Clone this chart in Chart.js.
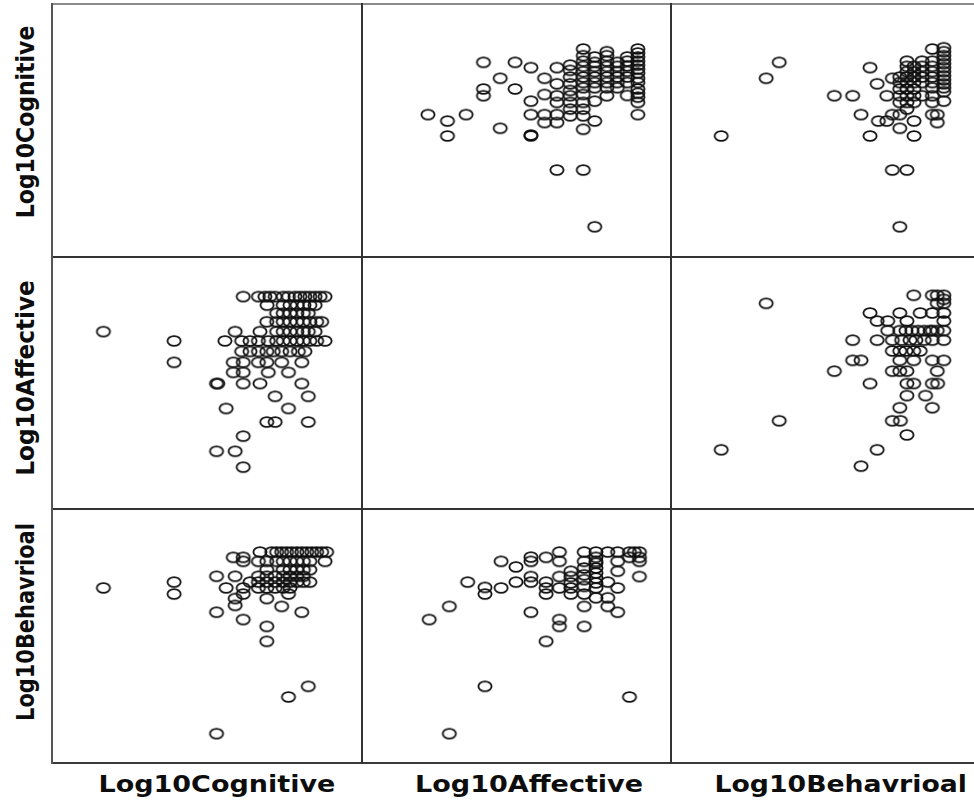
<!DOCTYPE html>
<html>
<head>
<meta charset="utf-8">
<script src="https://cdn.jsdelivr.net/npm/chart.js@4.4.1/dist/chart.umd.min.js"></script>
<style>
html,body{margin:0;padding:0;background:#fff;}
#wrap{position:relative;width:974px;height:801px;overflow:hidden;background:#fff;}
#wrap canvas{position:absolute;}
.ln{position:absolute;background:#333;z-index:5;}
.lbl{position:absolute;font-family:'DejaVu Sans',sans-serif;font-weight:bold;white-space:nowrap;line-height:1;color:#0d0d0d;transform-origin:50% 50%;}
</style>
</head>
<body>
<div id="wrap"></div>
<script>
// ---- variable names (axis labels) ----
const varNames = ['Log10Cognitive', 'Log10Affective', 'Log10Behavrioal'];

// ---- Cognitive vs Affective pairs ----
const caCog = [
  1.120,1.169,1.190,1.206,1.223,1.249,1.266,1.287,1.303,1.319,1.335,1.352,1.368,1.384,
  1.197,1.249,1.271,1.294,1.316,1.335,1.352,
  1.228,1.249,1.271,1.293,1.314,1.330,
  1.196,1.228,1.249,1.271,1.293,1.314,1.335,1.357,1.373,
  0.669,1.094,1.174,1.228,1.249,1.271,1.293,1.314,1.330,1.352,
  0.897,1.061,1.115,1.142,1.169,1.201,1.228,1.249,1.271,1.293,1.314,1.335,1.357,1.384,
  1.115,1.142,1.169,1.196,1.217,1.244,1.271,1.298,1.319,
  0.897,1.088,1.120,1.169,1.196,1.244,1.309,
  1.088,1.120,1.201,1.266,
  1.034,1.038,1.120,1.174,1.309,
  1.223,1.330,
  1.065,1.266,
  1.196,1.223,1.330,
  1.120,
  1.034,1.094,
  1.120
];
const caAff = [
  1.393,1.393,1.393,1.393,1.393,1.393,1.393,1.393,1.393,1.393,1.393,1.393,1.393,1.393,
  1.359,1.359,1.359,1.359,1.359,1.359,1.359,
  1.327,1.327,1.327,1.327,1.327,1.327,
  1.293,1.293,1.293,1.293,1.293,1.293,1.293,1.293,1.293,
  1.254,1.254,1.254,1.254,1.254,1.254,1.254,1.254,1.254,1.254,
  1.217,1.217,1.217,1.217,1.217,1.217,1.217,1.217,1.217,1.217,1.217,1.217,1.217,1.217,
  1.175,1.175,1.175,1.175,1.175,1.175,1.175,1.175,1.175,
  1.132,1.132,1.132,1.132,1.132,1.132,1.132,
  1.092,1.092,1.092,1.092,
  1.048,1.048,1.048,1.048,1.048,
  0.997,0.997,
  0.949,0.949,
  0.895,0.895,0.895,
  0.839,
  0.779,0.779,
  0.716
];

// ---- Cognitive vs Behavioral pairs ----
const cbCog = [
  1.174,1.212,1.228,1.244,1.260,1.276,1.293,1.309,1.325,1.341,1.357,1.373,1.389,
  1.088,1.120,
  1.120,1.169,1.196,1.228,1.249,1.271,1.293,1.314,1.335,1.384,
  1.196,1.249,1.271,1.293,1.314,1.335,
  1.034,1.094,1.169,1.196,1.223,1.249,1.271,1.293,1.314,
  0.897,1.142,1.169,1.196,1.223,1.249,1.271,1.293,1.314,1.335,
  0.669,1.065,1.120,1.169,1.196,1.223,1.249,1.271,
  0.897,1.120,1.266,
  1.094,1.196,
  1.094,
  1.244,
  1.034,1.309,
  1.120,
  1.196,
  1.196,
  1.330,
  1.266,
  1.034
];
const cbBeh = [
  1.380,1.380,1.380,1.380,1.380,1.380,1.380,1.380,1.380,1.380,1.380,1.380,1.380,
  1.359,1.359,
  1.343,1.343,1.343,1.343,1.343,1.343,1.343,1.343,1.343,1.343,
  1.310,1.310,1.310,1.310,1.310,1.310,
  1.284,1.284,1.284,1.284,1.284,1.284,1.284,1.284,1.284,
  1.261,1.261,1.261,1.261,1.261,1.261,1.261,1.261,1.261,1.261,
  1.238,1.238,1.238,1.238,1.238,1.238,1.238,1.238,
  1.214,1.214,1.214,
  1.196,1.196,
  1.169,
  1.165,
  1.142,1.142,
  1.113,
  1.086,
  1.027,
  0.849,
  0.807,
  0.662
];

// ---- Affective vs Behavioral pairs ----
const abAff = [
  0.785,0.900,1.366,1.097,1.220,1.140,1.140,1.048,0.720,0.785,
  0.844,0.900,0.900,0.952,1.000,0.952,1.000,1.048,1.048,1.097,
  1.140,1.140,1.048,1.048,1.097,1.097,1.097,1.140,1.140,
  1.177,1.177,1.177,1.177,1.177,
  1.220,1.220,1.220,1.220,1.220,1.220,1.220,1.220,
  1.258,1.258,1.258,1.258,1.258,1.258,1.258,1.258,1.258,1.258,
  1.296,1.296,1.296,1.296,
  1.328,1.328,1.328,1.328,1.328,
  1.366,1.366,1.382,1.398,1.398,1.398,1.398
];
const abBeh = [
  0.662,0.849,0.807,1.027,1.086,1.113,1.086,1.142,1.113,1.165,
  1.261,1.240,1.214,1.238,1.261,1.343,1.321,1.360,1.343,1.359,
  1.380,1.343,1.283,1.261,1.261,1.238,1.214,1.283,1.238,
  1.304,1.283,1.258,1.238,1.214,
  1.380,1.343,1.317,1.290,1.271,1.244,1.214,1.165,
  1.380,1.359,1.336,1.317,1.297,1.277,1.258,1.238,1.199,1.343,
  1.380,1.261,1.199,1.165,
  1.380,1.343,1.304,1.238,1.142,
  1.380,1.359,1.380,1.380,1.359,1.343,1.283
];

// ---- value arrays indexed by variable pair ----
const pairData = {
  '0-1': [caCog, caAff],
  '0-2': [cbCog, cbBeh],
  '1-2': [abAff, abBeh]
};

// ---- layout (panel geometry and axis ranges) ----
const colLeft = [51, 361, 671];
const colW = 310;
const rowTop = [4, 257, 509];
const rowBot = [257, 509, 762];
const xMin = 0.5, xMax = 1.5;
const yRange = [[0.5474, 1.5647], [0.55, 1.55], [0.55, 1.55]];

const wrap = document.getElementById('wrap');

// open elliptical marker
const ring = document.createElement('canvas');
ring.width = 18; ring.height = 14;
(function(){
  const g = ring.getContext('2d');
  g.beginPath();
  g.ellipse(9, 7, 6.6, 4.9, 0, 0, Math.PI * 2);
  g.lineWidth = 1.8;
  g.strokeStyle = '#111';
  g.stroke();
})();

for (let r = 0; r < 3; r++) {
  for (let c = 0; c < 3; c++) {
    if (r === c) continue;
    const key = Math.min(r, c) + '-' + Math.max(r, c);
    const arrs = pairData[key];
    const xs = (c < r) ? arrs[0] : arrs[1];
    const ys = (c < r) ? arrs[1] : arrs[0];
    const cv = document.createElement('canvas');
    const h = rowBot[r] - rowTop[r];
    cv.width = colW; cv.height = h;
    cv.style.left = colLeft[c] + 'px';
    cv.style.top = rowTop[r] + 'px';
    cv.style.width = colW + 'px';
    cv.style.height = h + 'px';
    wrap.appendChild(cv);
    new Chart(cv, {
      type: 'scatter',
      data: {
        datasets: [{
          data: xs.map((x, i) => ({ x: x, y: ys[i] })),
          pointStyle: ring,
          pointRadius: 7,
          pointHoverRadius: 7,
          borderColor: '#111',
          backgroundColor: 'rgba(0,0,0,0)',
          clip: false
        }]
      },
      options: {
        responsive: false,
        animation: false,
        devicePixelRatio: 1,
        events: [],
        layout: { padding: 0, autoPadding: false },
        plugins: { legend: { display: false }, tooltip: { enabled: false } },
        scales: {
          x: { type: 'linear', display: false, min: xMin, max: xMax },
          y: { type: 'linear', display: false, min: yRange[r][0], max: yRange[r][1] }
        }
      }
    });
  }
}

// frame lines
function line(x, y, w, h, col) {
  const d = document.createElement('div');
  d.className = 'ln';
  d.style.left = x + 'px'; d.style.top = y + 'px';
  d.style.width = w + 'px'; d.style.height = h + 'px';
  d.style.background = col;
  wrap.appendChild(d);
}
line(51, 3, 930, 2, '#8c8c8c');
line(51, 256, 930, 2, '#333');
line(51, 508, 930, 2, '#333');
line(51, 762, 930, 2, '#3a3a3a');
line(51, 3, 2, 761, '#555');
line(361, 3, 2, 761, '#333');
line(670, 3, 2, 761, '#333');

// axis titles
function label(text, cx, cy, size, len, rot) {
  const el = document.createElement('div');
  el.className = 'lbl';
  el.style.fontSize = size + 'px';
  el.textContent = text;
  wrap.appendChild(el);
  const w = el.offsetWidth, hh = el.offsetHeight;
  el.style.left = (cx - w / 2) + 'px';
  el.style.top = (cy - hh / 2) + 'px';
  el.style.transform = 'rotate(' + rot + 'deg) scaleX(' + (len / w) + ')';
}
const bottomCx = [216.5, 529, 840.5], bottomLen = [237, 228, 252];
const leftCy = [121.5, 378, 622], leftLen = [193, 196, 198];
for (let i = 0; i < 3; i++) {
  label(varNames[i], bottomCx[i], 784, 23, bottomLen[i], 0);
  label(varNames[i], 26.5, leftCy[i], 24, leftLen[i], -90);
}
</script>
</body>
</html>
